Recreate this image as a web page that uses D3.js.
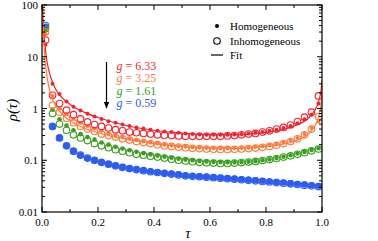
<!DOCTYPE html>
<html><head><meta charset="utf-8">
<script src="https://cdn.jsdelivr.net/npm/d3@7"></script>
<style>body{margin:0;background:#fff}svg{display:block}svg text{font-family:"Liberation Serif","DejaVu Serif",serif !important}</style>
</head><body><svg id="c" width="378" height="241"></svg>
<script>
// τ sample positions
const tau = [0.0125,0.0375,0.0625,0.0875,0.1125,0.1375,0.1625,0.1875,0.2125,0.2375,0.2625,0.2875,0.3125,0.3375,0.3625,0.3875,0.4125,0.4375,0.4625,0.4875,0.5125,0.5375,0.5625,0.5875,0.6125,0.6375,0.6625,0.6875,0.7125,0.7375,0.7625,0.7875,0.8125,0.8375,0.8625,0.8875,0.9125,0.9375,0.9625,0.9875];
const gLabels = ["6.33","3.25","1.61","0.59"];
const colors = ["#f5222d","#ff7a3a","#3a9e1e","#2d5cf0"];
// Homogeneous (filled)
const homRed = [17,3.0,1.9,1.36,1.08,0.91,0.79,0.70,0.63,0.57,0.53,0.49,0.46,0.43,0.41,0.39,0.37,0.36,0.35,0.34,0.33,0.32,0.315,0.31,0.31,0.31,0.31,0.315,0.32,0.33,0.34,0.35,0.37,0.39,0.42,0.46,0.52,0.62,0.76,1.25];
const homOrange = [28,1.75,1.0,0.78,0.63,0.53,0.46,0.41,0.37,0.33,0.30,0.28,0.26,0.245,0.23,0.22,0.21,0.20,0.193,0.187,0.182,0.178,0.175,0.172,0.17,0.169,0.169,0.17,0.172,0.175,0.18,0.186,0.195,0.205,0.22,0.24,0.27,0.32,0.42,0.56];
const homGreen = [33,0.95,0.62,0.47,0.38,0.32,0.28,0.25,0.22,0.2,0.182,0.168,0.156,0.146,0.137,0.13,0.123,0.117,0.112,0.107,0.103,0.1,0.097,0.095,0.093,0.092,0.091,0.091,0.092,0.094,0.096,0.1,0.104,0.11,0.117,0.125,0.135,0.145,0.158,0.17];
const homBlue = [38,0.45,0.27,0.19,0.15,0.125,0.11,0.1,0.092,0.085,0.079,0.074,0.07,0.067,0.064,0.061,0.059,0.057,0.055,0.053,0.051,0.05,0.049,0.048,0.047,0.046,0.045,0.044,0.043,0.042,0.041,0.04,0.039,0.038,0.037,0.036,0.035,0.034,0.033,0.032];
// Inhomogeneous (open)
const inhRed = [21,1.8,1.25,0.93,0.76,0.63,0.55,0.49,0.45,0.42,0.39,0.37,0.35,0.34,0.33,0.32,0.31,0.305,0.30,0.295,0.29,0.29,0.29,0.29,0.29,0.29,0.295,0.30,0.31,0.32,0.33,0.35,0.37,0.40,0.43,0.48,0.56,0.68,0.85,1.75];
const inhOrange = [30,1.15,0.85,0.65,0.53,0.45,0.40,0.36,0.32,0.30,0.28,0.26,0.245,0.23,0.22,0.21,0.20,0.19,0.185,0.18,0.175,0.17,0.168,0.165,0.163,0.162,0.162,0.163,0.165,0.168,0.172,0.178,0.185,0.195,0.21,0.23,0.26,0.31,0.40,0.70];
const inhGreen = [35,0.8,0.5,0.38,0.31,0.27,0.24,0.21,0.19,0.175,0.16,0.15,0.14,0.13,0.125,0.12,0.115,0.11,0.105,0.1,0.097,0.094,0.091,0.089,0.088,0.087,0.087,0.088,0.09,0.092,0.095,0.099,0.103,0.108,0.115,0.122,0.13,0.14,0.152,0.165];
const inhBlue = [40,0.45,0.27,0.19,0.15,0.126,0.11,0.1,0.091,0.084,0.078,0.073,0.069,0.066,0.063,0.06,0.058,0.056,0.054,0.052,0.05,0.049,0.048,0.047,0.046,0.045,0.044,0.043,0.042,0.041,0.04,0.039,0.038,0.037,0.036,0.035,0.034,0.033,0.032,0.031];
// Fits
const fitTau = [0.002,0.005,0.01,0.02,0.03,0.05,0.075,0.1,0.15,0.2,0.3,0.4,0.5,0.6,0.7,0.8,0.85,0.9,0.95,0.97,0.99,0.997,1.0];
const fitRed = [100,45,18,7,4.2,2.3,1.55,1.2,0.85,0.67,0.47,0.38,0.335,0.31,0.31,0.345,0.38,0.46,0.64,0.85,1.5,2.3,3.5];
const fitOrange = [100,30,10,3.5,2.0,1.1,0.75,0.58,0.42,0.34,0.255,0.21,0.185,0.172,0.17,0.185,0.2,0.23,0.32,0.42,0.75,1.3,2.2];
const xTicks = [0,0.2,0.4,0.6,0.8,1.0];
const yTicks = [0.01,0.1,1,10,100];

const svg = d3.select("#c");
const L=42,R=322,T=5,B=212;
const x = d3.scaleLinear().domain([0,1]).range([L,R]);
const y = d3.scaleLog().domain([0.01,100]).range([B,T]);
svg.append("clipPath").attr("id","cp").append("rect").attr("x",L).attr("y",T).attr("width",R-L).attr("height",B-T);

const hom=[homRed,homOrange,homGreen,homBlue], inh=[inhRed,inhOrange,inhGreen,inhBlue];
const fR=[2,2,2.3,3.2];
const g = svg.append("g").attr("clip-path","url(#cp)");
for(let k=3;k>=0;k--){
  g.append("g").selectAll("circle").data(tau).join("circle")
    .attr("cx",d=>x(d)).attr("cy",(d,i)=>y(inh[k][i])).attr("r",3.3)
    .attr("fill","none").attr("stroke",colors[k]).attr("stroke-width",1.1);
  g.append("g").selectAll("circle").data(tau).join("circle")
    .attr("cx",d=>x(d)).attr("cy",(d,i)=>y(hom[k][i])).attr("r",fR[k])
    .attr("fill",colors[k]);
}
const line = d3.line().x(d=>x(d[0])).y(d=>y(d[1])).curve(d3.curveMonotoneX);
[[fitRed,0],[fitOrange,1]].forEach(([f,k])=>{
  g.append("path").attr("d",line(fitTau.map((t,i)=>[t,f[i]]))).attr("fill","none").attr("stroke",colors[k]).attr("stroke-width",1.2);
});

// axes
const ax = svg.append("g").attr("stroke","#000").attr("fill","none");
ax.append("rect").attr("x",L).attr("y",T).attr("width",R-L).attr("height",B-T).attr("stroke-width",1.2);
const minorX = d3.range(0,1.01,0.1);
minorX.forEach((v,i)=>{
  const len = i%2===0?5:3;
  ax.append("line").attr("x1",x(v)).attr("x2",x(v)).attr("y1",B).attr("y2",B-len);
  ax.append("line").attr("x1",x(v)).attr("x2",x(v)).attr("y1",T).attr("y2",T+len);
});
const yMinor=[];
for(let e=-2;e<2;e++) for(let m=1;m<10;m++) yMinor.push([m*Math.pow(10,e),m===1]);
yMinor.push([100,true]);
yMinor.forEach(([v,maj])=>{
  const len=maj?5:3;
  ax.append("line").attr("x1",L).attr("x2",L+len).attr("y1",y(v)).attr("y2",y(v));
  ax.append("line").attr("x1",R).attr("x2",R-len).attr("y1",y(v)).attr("y2",y(v));
});
svg.selectAll(".xt").data(xTicks).join("text").attr("x",d=>x(d)).attr("y",226)
  .attr("text-anchor","middle").attr("font-size",11).text(d=>d.toFixed(1));
svg.selectAll(".yt").data(yTicks).join("text").attr("x",38).attr("y",d=>y(d)+4)
  .attr("text-anchor","end").attr("font-size",11).text(d=>String(d));
svg.append("text").attr("transform","translate(17,110) rotate(-90)").attr("text-anchor","middle")
  .attr("font-size",15).attr("font-style","italic").text("ρ(τ)");
svg.append("text").attr("x",188).attr("y",238).attr("text-anchor","middle").attr("font-size",15).attr("font-style","italic").text("τ");

// legend
svg.append("circle").attr("cx",217).attr("cy",26).attr("r",2).attr("fill","#000");
svg.append("circle").attr("cx",217).attr("cy",41).attr("r",3.3).attr("fill","none").attr("stroke","#000").attr("stroke-width",1.1);
svg.append("line").attr("x1",211).attr("x2",223).attr("y1",55).attr("y2",55).attr("stroke","#000").attr("stroke-width",1.2);
["Homogeneous","Inhomogeneous","Fit"].forEach((t,i)=>svg.append("text").attr("x",230).attr("y",30+i*14.5).attr("font-size",11).text(t));

// arrow
svg.append("defs").append("marker").attr("id","ah").attr("viewBox","0 0 10 10").attr("refX",9).attr("refY",5)
  .attr("markerWidth",6).attr("markerHeight",6).attr("orient","auto").append("path").attr("d","M0,1 L10,5 L0,9 z").attr("fill","#000");
svg.append("line").attr("x1",106.5).attr("x2",106.5).attr("y1",62).attr("y2",108).attr("stroke","#000").attr("stroke-width",1.2).attr("marker-end","url(#ah)");
gLabels.forEach((t,i)=>{
  svg.append("text").attr("x",116.5).attr("y",69.5+i*12.5).attr("font-size",12).attr("font-style","italic").attr("fill",colors[i]).text("g");
  svg.append("text").attr("x",125.5).attr("y",69.5+i*12.5).attr("font-size",12).attr("fill",colors[i]).text("= "+t);
});
</script></body></html>
